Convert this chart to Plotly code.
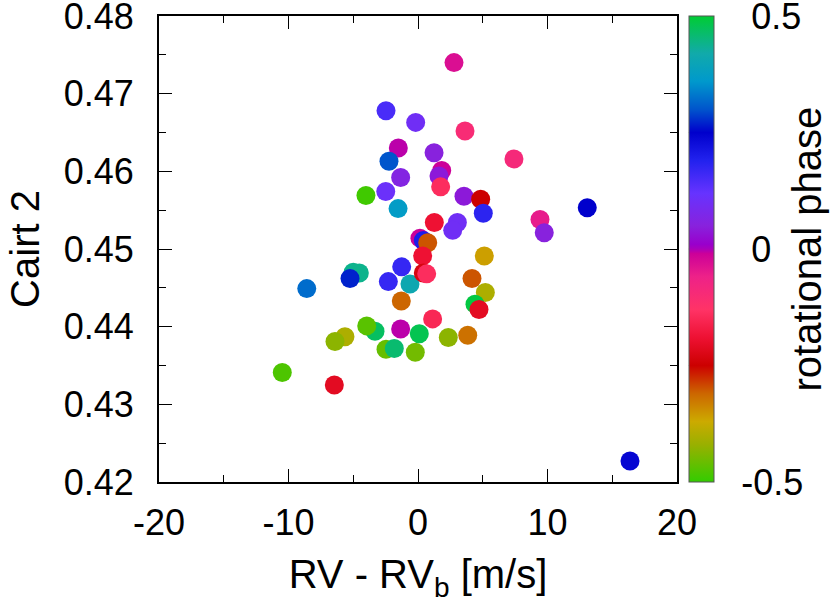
import plotly.graph_objects as go

# RV - RV_b [m/s]
rv = [2.78, -2.47, -0.18, 3.63, -1.52, 1.24, -2.24, 7.41, 1.83, 1.62,
      -1.34, 1.75, -4.02, -2.49, 3.55, 4.84, 5.04, -1.54, 1.26, 3.04,
      2.68, 0.15, 0.41, 0.75, 5.12, 0.36, -1.26, -5.00, -4.53, -5.25,
      -8.59, -2.29, -0.62, 0.41, 0.67, 4.17, 5.20, -1.29, 4.40, 4.71,
      1.13, -3.32, -3.96, -1.34, 0.10, -5.64, -6.41, 2.34, 3.84, -2.47,
      -1.83, -0.21, -10.48, -6.46, 9.42, 9.75, 13.07, 16.37]
# Cairt 2 index
cairt = [0.4740, 0.4678, 0.4663, 0.4652, 0.4630, 0.4624, 0.4613, 0.4616, 0.4601, 0.4594,
         0.4592, 0.4580, 0.4569, 0.4574, 0.4568, 0.4564, 0.4546, 0.4552, 0.4534, 0.4534,
         0.4524, 0.4514, 0.4511, 0.4508, 0.4491, 0.4491, 0.4477, 0.4470, 0.4469, 0.4462,
         0.4449, 0.4458, 0.4455, 0.4469, 0.4468, 0.4462, 0.4444, 0.4433, 0.4429, 0.4422,
         0.4410, 0.4394, 0.4401, 0.4397, 0.4391, 0.4387, 0.4381, 0.4386, 0.4389, 0.4371,
         0.4372, 0.4367, 0.4341, 0.4325, 0.4538, 0.4521, 0.4553, 0.4227]
# rotational phase
phase = [-0.03, 0.15, 0.10, -0.10, -0.005, 0.05, 0.30, -0.09, -0.01, 0.04,
         0.06, -0.14, -0.49, 0.11, 0.04, -0.25, 0.18, 0.37, -0.19, 0.10,
         0.10, -0.01, 0.20, -0.30, -0.36, -0.19, 0.17, 0.44, 0.44, 0.27,
         0.32, 0.17, 0.41, -0.23, -0.14, -0.30, -0.40, -0.31, 0.49, -0.21,
         -0.15, 0.47, -0.47, -0.005, 0.48, -0.40, -0.43, -0.43, -0.32, -0.46,
         0.46, -0.45, -0.48, -0.21, -0.05, 0.05, 0.25, 0.24]

x_ticks = [-20, -10, 0, 10, 20]
x_ticktext = ["-20", "-10", "0", "10", "20"]
y_ticks = [0.42, 0.43, 0.44, 0.45, 0.46, 0.47, 0.48]
y_ticktext = ["0.42", "0.43", "0.44", "0.45", "0.46", "0.47", "0.48"]
cb_ticks = [-0.5, 0, 0.5]
cb_ticktext = ["-0.5", "\u00a00", "\u00a00.5"]

colorscale = [
    [0.00, "#33cc00"], [0.08, "#99b000"], [0.13, "#ccaa00"], [0.19, "#cc6600"],
    [0.25, "#cc0000"], [0.31, "#ee1133"], [0.37, "#ff3366"], [0.44, "#ee2288"],
    [0.49, "#cc0099"], [0.50, "#aa00bb"], [0.51, "#9900cc"], [0.55, "#8822dd"],
    [0.62, "#6633ff"], [0.69, "#2222ee"], [0.75, "#0000cc"], [0.80, "#0055cc"],
    [0.86, "#0099cc"], [0.92, "#11aaaa"], [1.00, "#00cc33"],
]

FONT = "Liberation Sans, Arial, Helvetica, sans-serif"
TICK_SIZE = 36
TITLE_SIZE = 40

fig = go.Figure(go.Scatter(
    x=rv, y=cairt, mode="markers",
    marker=dict(
        size=19, color=phase, cmin=-0.5, cmax=0.5, colorscale=colorscale,
        line=dict(width=0),
        colorbar=dict(
            tickvals=cb_ticks, ticktext=cb_ticktext,
            ticks="outside", ticklen=20, tickcolor="rgba(0,0,0,0)",
            tickfont=dict(size=TICK_SIZE, color="black"),
            ticklabeloverflow="allow",
            thickness=25, thicknessmode="pixels",
            len=1, lenmode="fraction", y=0.5, yanchor="middle",
            x=1.023, xanchor="left", xpad=0, ypad=0,
            outlinewidth=1, outlinecolor="#555555",
        ),
    ),
    showlegend=False,
))

# colour-box title
fig.add_annotation(text="rotational phase", xref="paper", yref="paper",
                   x=1.25, y=0.5, textangle=-90, showarrow=False,
                   xanchor="center", yanchor="middle",
                   font=dict(size=TITLE_SIZE, color="black"))

# small tic marks drawn on the colour box (gnuplot style)
for v, full in [(-0.25, False), (0.0, True), (0.25, False)]:
    yp = v + 0.5
    if full:
        fig.add_shape(type="line", xref="paper", yref="paper", x0=1.023, x1=1.0714,
                      y0=yp, y1=yp, line=dict(color="black", width=1))
    else:
        fig.add_shape(type="line", xref="paper", yref="paper", x0=1.023, x1=1.035,
                      y0=yp, y1=yp, line=dict(color="black", width=1))
        fig.add_shape(type="line", xref="paper", yref="paper", x0=1.059, x1=1.0714,
                      y0=yp, y1=yp, line=dict(color="black", width=1))

axis_common = dict(
    showgrid=False, zeroline=False, showline=True, linecolor="black", linewidth=2,
    mirror="allticks", ticks="inside", ticklen=13, tickwidth=1, tickcolor="black",
    tickfont=dict(size=TICK_SIZE, color="black"), ticklabeloverflow="allow",
    automargin=False,
)

fig.update_xaxes(
    range=[-20, 20], tickvals=x_ticks, ticktext=x_ticktext, ticklabelstandoff=8,
    minor=dict(ticks="inside", dtick=5, ticklen=7, tickcolor="black"),
    title=dict(text="RV - RV<sub>b</sub> [m/s]", font=dict(size=TITLE_SIZE, color="black"), standoff=18),
    **axis_common,
)
fig.update_yaxes(
    range=[0.42, 0.48], tickvals=y_ticks, ticktext=y_ticktext, ticklabelstandoff=16,
    minor=dict(ticks="inside", dtick=0.005, ticklen=7, tickcolor="black"),
    title=dict(text="Cairt 2", font=dict(size=TITLE_SIZE, color="black"), standoff=12),
    **axis_common,
)

fig.update_layout(
    width=830, height=607,
    margin=dict(l=159, r=153, t=16, b=125, pad=0, autoexpand=False),
    paper_bgcolor="white", plot_bgcolor="white",
    font=dict(family=FONT, color="black", size=TICK_SIZE),
)

fig.write_html(
    "out.html",
    config={"displayModeBar": False},
    post_script="document.body.style.margin='0';document.body.style.overflow='hidden';",
)
